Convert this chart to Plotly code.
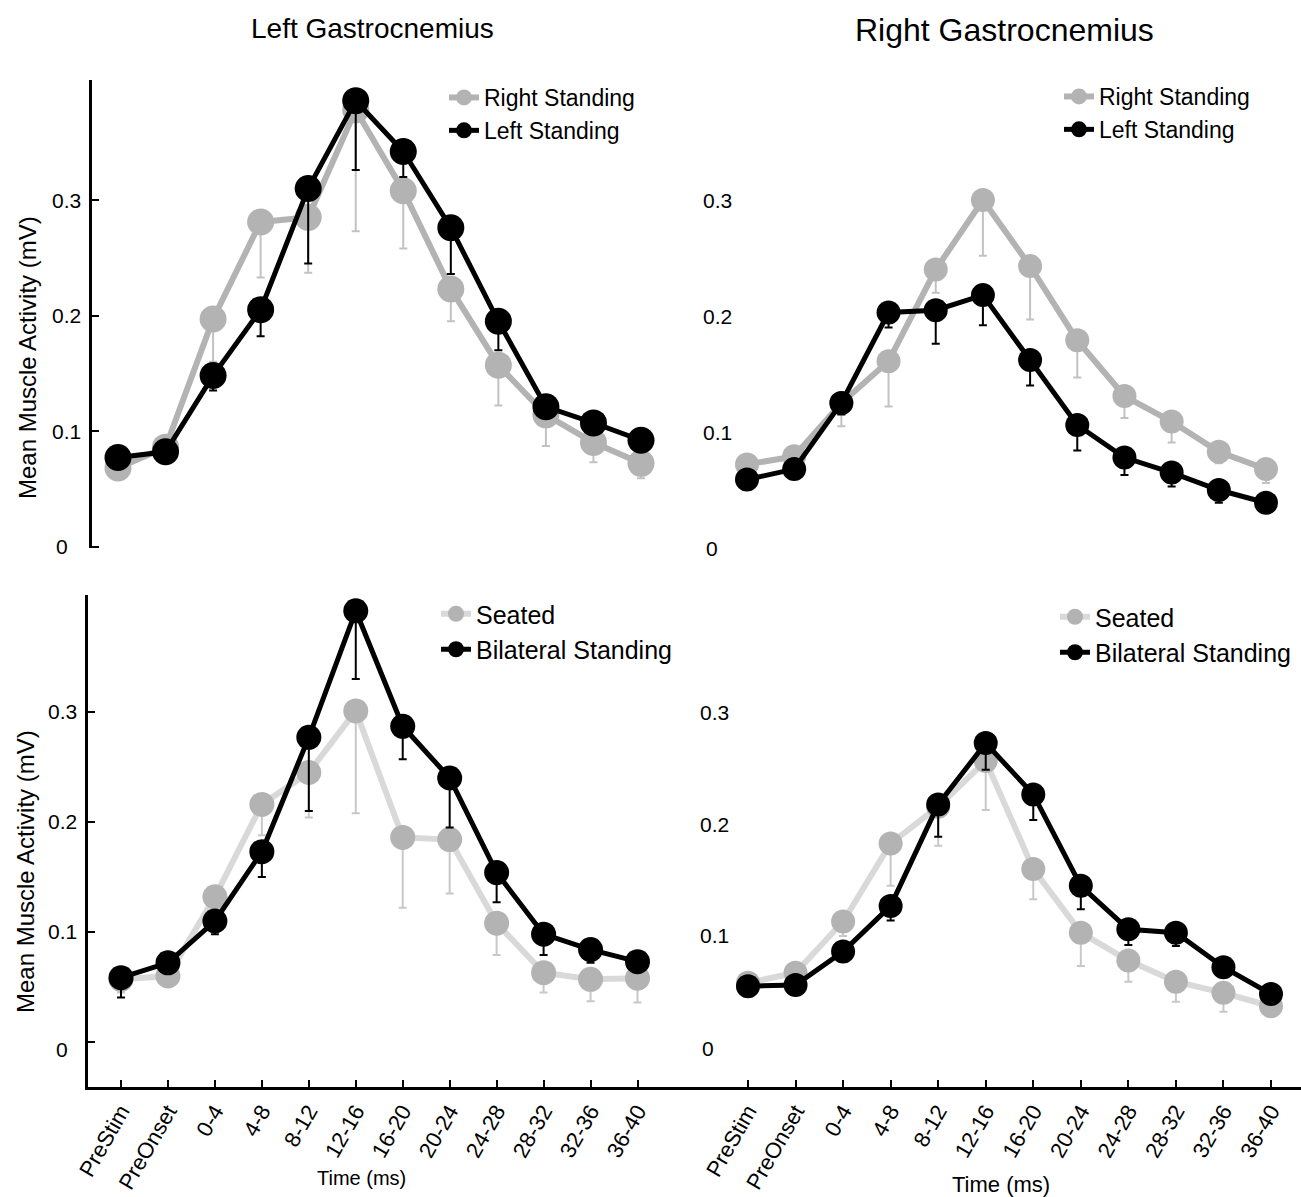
import plotly.graph_objects as go

W, H = 1301, 1197

# ---------------- data ----------------
time_bins = ["PreStim", "PreOnset", "0-4", "4-8", "8-12", "12-16",
             "16-20", "20-24", "24-28", "28-32", "32-36", "36-40"]

# Left gastrocnemius – unilateral standing
lg_right_standing = [0.068, 0.086, 0.197, 0.281, 0.285, 0.378, 0.308, 0.223, 0.157, 0.114, 0.090, 0.072]
lg_right_standing_sem = [0.005, 0.006, 0.037, 0.048, 0.048, 0.105, 0.050, 0.028, 0.035, 0.027, 0.017, 0.013]
lg_left_standing = [0.077, 0.082, 0.148, 0.205, 0.310, 0.386, 0.342, 0.276, 0.195, 0.121, 0.107, 0.092]
lg_left_standing_sem = [0.004, 0.004, 0.013, 0.023, 0.065, 0.060, 0.022, 0.040, 0.025, 0.009, 0.007, 0.006]

# Right gastrocnemius – unilateral standing
rg_right_standing = [0.072, 0.079, 0.125, 0.161, 0.240, 0.300, 0.243, 0.179, 0.131, 0.109, 0.083, 0.068]
rg_right_standing_sem = [0.004, 0.004, 0.020, 0.039, 0.020, 0.048, 0.046, 0.032, 0.019, 0.018, 0.010, 0.012]
rg_left_standing = [0.059, 0.068, 0.125, 0.203, 0.205, 0.218, 0.162, 0.106, 0.078, 0.065, 0.050, 0.039]
rg_left_standing_sem = [0.003, 0.003, 0.010, 0.013, 0.029, 0.026, 0.022, 0.022, 0.015, 0.012, 0.011, 0.004]

# Left gastrocnemius – seated vs bilateral standing
lg_seated = [0.057, 0.060, 0.132, 0.216, 0.245, 0.301, 0.186, 0.184, 0.108, 0.063, 0.057, 0.058]
lg_seated_sem = [0.012, 0.005, 0.020, 0.028, 0.041, 0.093, 0.064, 0.049, 0.029, 0.018, 0.020, 0.022]
lg_bilateral = [0.0585, 0.072, 0.110, 0.173, 0.277, 0.392, 0.287, 0.240, 0.154, 0.098, 0.084, 0.073]
lg_bilateral_sem = [0.018, 0.005, 0.012, 0.023, 0.067, 0.062, 0.030, 0.045, 0.027, 0.019, 0.012, 0.005]

# Right gastrocnemius – seated vs bilateral standing
rg_seated = [0.058, 0.067, 0.113, 0.183, 0.216, 0.257, 0.160, 0.103, 0.078, 0.059, 0.049, 0.037]
rg_seated_sem = [0.003, 0.004, 0.013, 0.038, 0.035, 0.044, 0.027, 0.030, 0.019, 0.018, 0.017, 0.009]
rg_bilateral = [0.055, 0.056, 0.086, 0.127, 0.218, 0.273, 0.227, 0.145, 0.106, 0.103, 0.072, 0.048]
rg_bilateral_sem = [0.002, 0.002, 0.004, 0.013, 0.029, 0.024, 0.023, 0.021, 0.014, 0.012, 0.008, 0.003]

y_tick_vals = [0, 0.1, 0.2, 0.3]
y_tick_text = ["0", "0.1", "0.2", "0.3"]

titles = ["Left Gastrocnemius", "Right Gastrocnemius"]
y_title = "Mean Muscle Activity (mV)"
x_title = "Time (ms)"

# ---------------- styling / geometry ----------------
ARIAL = "Liberation Sans, Arial, sans-serif"
BLACK = "#000000"


def xp(px):
    return px / W


def yp(py):
    return 1 - py / H


panels = [
    dict(ax="", dom_x=(92, 690), first=118, last=641, dom_y=(80, 548), zero=546.5, unit=1155,
         series=[("Right Standing", lg_right_standing, lg_right_standing_sem),
                 ("Left Standing", lg_left_standing, lg_left_standing_sem)],
         gray_line="#b3b3b3", gray_marker="#b3b3b3", gray_err="#c2c2c2", msize=27, lw=(6, 5),
         leg=(444, 76), legfont=23, tick_x=[62, 66, 66, 66], zero_shift=0, yline=True, xline=False),
    dict(ax="2", dom_x=(690, 1301), first=747, last=1266, dom_y=(80, 548), zero=548, unit=1160,
         series=[("Right Standing", rg_right_standing, rg_right_standing_sem),
                 ("Left Standing", rg_left_standing, rg_left_standing_sem)],
         gray_line="#b3b3b3", gray_marker="#b3b3b3", gray_err="#c2c2c2", msize=24, lw=(6, 5),
         leg=(1059, 75), legfont=23, tick_x=[712, 717, 717, 717], zero_shift=0, yline=False, xline=False),
    dict(ax="3", dom_x=(88, 690), first=121, last=637.5, dom_y=(595, 1087), zero=1042, unit=1100,
         series=[("Seated", lg_seated, lg_seated_sem),
                 ("Bilateral Standing", lg_bilateral, lg_bilateral_sem)],
         gray_line="#d9d9d9", gray_marker="#b3b3b3", gray_err="#c8c8c8", msize=25, lw=(6, 5),
         leg=(436, 591), legfont=25, tick_x=[62, 62, 62, 62], zero_shift=-7, yline=True, xline=True),
    dict(ax="4", dom_x=(690, 1301), first=748, last=1271, dom_y=(595, 1087), zero=1047.5, unit=1115,
         series=[("Seated", rg_seated, rg_seated_sem),
                 ("Bilateral Standing", rg_bilateral, rg_bilateral_sem)],
         gray_line="#d9d9d9", gray_marker="#b3b3b3", gray_err="#c8c8c8", msize=24, lw=(6, 5),
         leg=(1055, 594), legfont=25, tick_x=[708, 714, 714, 714], zero_shift=-1, yline=False, xline=True),
]

fig = go.Figure()
layout = dict(
    width=W, height=H, margin=dict(l=0, r=0, t=0, b=0, pad=0, autoexpand=False),
    paper_bgcolor="white", plot_bgcolor="white", showlegend=True,
)
annotations = []

for i, p in enumerate(panels):
    ax = p["ax"]
    xname, yname = "x" + ax, "y" + ax
    legname = "legend" + ax
    step = (p["last"] - p["first"]) / (len(time_bins) - 1)
    xr = [-(p["first"] - p["dom_x"][0]) / step,
          (len(time_bins) - 1) + (p["dom_x"][1] - p["last"]) / step]
    yr = [(p["zero"] - p["dom_y"][1]) / p["unit"], (p["zero"] - p["dom_y"][0]) / p["unit"]]

    (gname, gvals, gsem), (bname, bvals, bsem) = p["series"]
    fig.add_trace(go.Scatter(
        x=time_bins, y=gvals, name=gname, mode="lines+markers",
        xaxis=xname, yaxis=yname, legend=legname,
        line=dict(color=p["gray_line"], width=p["lw"][0]),
        marker=dict(color=p["gray_marker"], size=p["msize"]),
        error_y=dict(type="data", symmetric=False, array=[0] * len(gsem), arrayminus=gsem,
                     color=p["gray_err"], thickness=2, width=4),
        cliponaxis=False,
    ))
    fig.add_trace(go.Scatter(
        x=time_bins, y=bvals, name=bname, mode="lines+markers",
        xaxis=xname, yaxis=yname, legend=legname,
        line=dict(color=BLACK, width=p["lw"][1]),
        marker=dict(color=BLACK, size=p["msize"]),
        error_y=dict(type="data", symmetric=False, array=[0] * len(bsem), arrayminus=bsem,
                     color=BLACK, thickness=2, width=4),
        cliponaxis=False,
    ))

    xa = dict(domain=[xp(p["dom_x"][0]), xp(p["dom_x"][1])], range=xr, type="category",
              categoryorder="array", categoryarray=time_bins, automargin=False,
              anchor=yname, showgrid=False, zeroline=False, fixedrange=True)
    if p["xline"]:
        xa.update(showline=True, linecolor=BLACK, linewidth=2.5, ticks="inside", ticklen=7,
                  tickwidth=1.5, tickcolor=BLACK, tickangle=-60, ticklabelstandoff=0,
                  tickfont=dict(family=ARIAL, size=22, color=BLACK))
    else:
        xa.update(showline=False, ticks="", showticklabels=False)
    ya = dict(domain=[yp(p["dom_y"][1]), yp(p["dom_y"][0])], range=yr, anchor=xname,
              automargin=False, showgrid=False, zeroline=False, showticklabels=False,
              fixedrange=True)
    if p["yline"]:
        ya.update(showline=True, linecolor=BLACK, linewidth=2.5, ticks="inside", ticklen=7,
                  tickwidth=2, tickcolor=BLACK, tickvals=y_tick_vals)
    else:
        ya.update(showline=False, ticks="")
    layout["xaxis" + ax] = xa
    layout["yaxis" + ax] = ya

    layout[legname] = dict(
        x=xp(p["leg"][0]), y=yp(p["leg"][1]), xanchor="left", yanchor="top",
        bgcolor="rgba(0,0,0,0)", borderwidth=0, itemsizing="trace",
        font=dict(family=ARIAL, size=p["legfont"], color=BLACK), tracegroupgap=0,
    )

    # y tick labels
    for tv, tt, tx in zip(y_tick_vals, y_tick_text, p["tick_x"]):
        annotations.append(dict(
            x=xp(tx), xref="paper", y=tv, yref=yname, text=tt, showarrow=False,
            xanchor="center", yanchor="middle", yshift=p["zero_shift"] if tv == 0 else 0,
            font=dict(family=ARIAL, size=21, color=BLACK)))

# column titles
annotations.append(dict(x=xp(372), y=yp(28), xref="paper", yref="paper", text=titles[0],
                        showarrow=False, xanchor="center", yanchor="middle",
                        font=dict(family=ARIAL, size=28, color=BLACK)))
annotations.append(dict(x=xp(1005), y=yp(30), xref="paper", yref="paper", text=titles[1],
                        showarrow=False, xanchor="center", yanchor="middle",
                        font=dict(family=ARIAL, size=32, color=BLACK)))
# y titles
for cx, cy in [(27, 358), (25, 872)]:
    annotations.append(dict(x=xp(cx), y=yp(cy), xref="paper", yref="paper", text=y_title,
                            showarrow=False, textangle=-90, xanchor="center", yanchor="middle",
                            font=dict(family=ARIAL, size=24, color=BLACK)))
# x titles
for cx, cy, fs in [(361, 1178, 20), (1001, 1184, 22)]:
    annotations.append(dict(x=xp(cx), y=yp(cy), xref="paper", yref="paper", text=x_title,
                            showarrow=False, xanchor="center", yanchor="middle",
                            font=dict(family=ARIAL, size=fs, color=BLACK)))

layout["annotations"] = annotations
fig.update_layout(**layout)

fig.write_html("out.html", config={"displayModeBar": False},
               post_script="document.body.style.margin='0';document.body.style.overflow='hidden';")
